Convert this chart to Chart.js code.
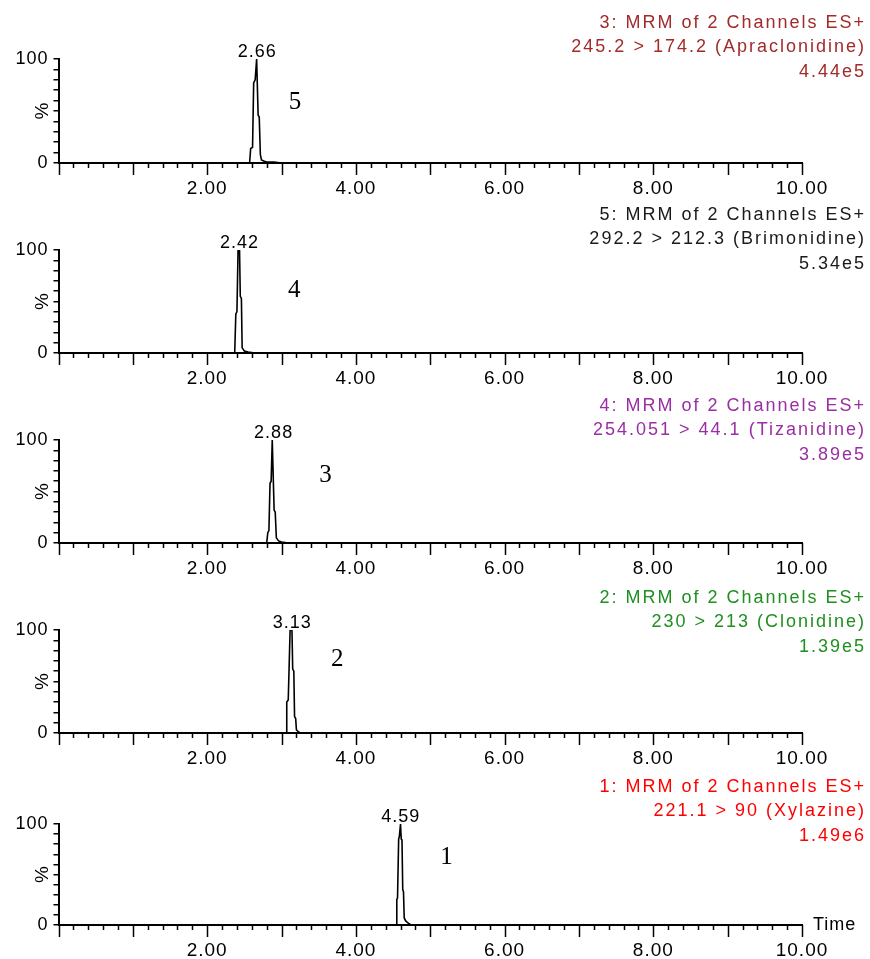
<!DOCTYPE html>
<html lang="en">

<head>
    <meta charset="UTF-8">
    <title>MRM chromatograms</title>
    <style>
        html, body { margin: 0; padding: 0; background: #fff; overflow: hidden; }
        .panel { position: absolute; left: 0; }
    </style>
</head>

<body>
    <div id="wrap"></div>
</body>
<script src="https://cdn.jsdelivr.net/npm/chart.js"></script>
<script>
    // channel header text, top to bottom
    const channelLines = ['3: MRM of 2 Channels ES+', '5: MRM of 2 Channels ES+', '4: MRM of 2 Channels ES+', '2: MRM of 2 Channels ES+', '1: MRM of 2 Channels ES+'];
    const transitionLines = ['245.2 > 174.2 (Apraclonidine)', '292.2 > 212.3 (Brimonidine)', '254.051 > 44.1 (Tizanidine)', '230 > 213 (Clonidine)', '221.1 > 90 (Xylazine)'];
    const intensityLines = ['4.44e5', '5.34e5', '3.89e5', '1.39e5', '1.49e6'];
    const headerColors = ['#a32a2a', '#1a1a1a', '#9a2fa3', '#1f8f1f', '#ff0000'];

    const peakTimes = [2.66, 2.42, 2.88, 3.13, 4.59];
    const compoundNumbers = ['5', '4', '3', '2', '1'];
    const numberX = [3.18, 3.17, 3.59, 3.75, 5.22];
    const numberY = [58, 61, 66, 71, 67];

    const xLabelValues = [2, 4, 6, 8, 10];
    const yLabelValues = [0, 100];

    // retention time (min) / relative intensity (%)
    const time1 = [0, 2.57, 2.585, 2.61, 2.625, 2.645, 2.665, 2.685, 2.70, 2.715, 2.73, 2.76, 2.80, 2.90, 2.95, 3.00, 10];
    const pct1 = [0, 0, 14, 15, 77, 80, 100, 46, 44, 8, 3, 2, 1, 1, 0.5, 0, 0];
    const time2 = [0, 2.37, 2.385, 2.40, 2.415, 2.435, 2.445, 2.46, 2.47, 2.50, 2.55, 2.60, 2.62, 10];
    const pct2 = [0, 0, 38, 40, 100, 100, 55, 53, 5, 2, 1, 0.5, 0, 0];
    const time3 = [0, 2.80, 2.815, 2.83, 2.845, 2.86, 2.875, 2.885, 2.90, 2.915, 2.93, 2.96, 3.00, 3.05, 3.08, 10];
    const pct3 = [0, 0, 10, 12, 58, 60, 100, 100, 32, 30, 5, 2, 1, 0.5, 0, 0];
    const time4 = [0, 3.06, 3.07, 3.09, 3.115, 3.14, 3.15, 3.165, 3.175, 3.19, 3.20, 3.23, 3.25, 10];
    const pct4 = [0, 0, 30, 32, 100, 100, 62, 60, 16, 14, 3, 1, 0, 0];
    const time5 = [0, 4.54, 4.55, 4.56, 4.575, 4.585, 4.60, 4.61, 4.62, 4.63, 4.64, 4.65, 4.67, 4.70, 4.74, 10];
    const pct5 = [0, 0, 25, 27, 85, 88, 100, 85, 84, 35, 33, 7, 4, 2, 0, 0];

    const allTimes = [time1, time2, time3, time4, time5];
    const allPct = [pct1, pct2, pct3, pct4, pct5];

    // page layout: y of the 100% line, y of the 0 line, y of first header line
    const topY = [59, 250, 440, 630, 824];
    const bottomY = [163, 353, 543, 733, 925];
    const headerY = [23, 215, 406, 598, 787];
    const PAD_TOP = 59;
    const X_AXIS_H = 40;
    const PAD_BOTTOM = 4;

    const SANS = "'Liberation Sans', Arial, sans-serif";

    function makePanel(i) {
        let h = (bottomY[i] - topY[i]) + PAD_TOP + X_AXIS_H + PAD_BOTTOM;
        let canvas = document.createElement('canvas');
        canvas.className = 'panel';
        canvas.width = 870;
        canvas.height = h;
        canvas.style.top = (topY[i] - PAD_TOP) + 'px';
        canvas.style.width = '870px';
        canvas.style.height = h + 'px';
        document.getElementById('wrap').appendChild(canvas);

        let points = allTimes[i].map((t, k) => ({ x: t, y: allPct[i][k] }));

        let decor = {
            id: 'decor' + i,
            beforeDraw(chart) {
                chart.ctx.letterSpacing = '1px';
            },
            afterDraw(chart) {
                let ctx = chart.ctx;
                let xs = chart.scales.x;
                let ys = chart.scales.y;
                let off = topY[i] - PAD_TOP;
                ctx.save();
                ctx.letterSpacing = '2px';

                // x ticks: long at whole minutes, short every 0.2
                ctx.strokeStyle = '#000';
                ctx.lineWidth = 1.5;
                xs.ticks.forEach(t => {
                    let v = t.value;
                    let major = Math.abs(v - Math.round(v)) < 1e-6;
                    let px = Math.round(xs.getPixelForValue(v)) + 0.5;
                    ctx.beginPath();
                    ctx.moveTo(px, xs.top);
                    ctx.lineTo(px, xs.top + (major ? 12 : 5));
                    ctx.stroke();
                });

                // header
                ctx.fillStyle = headerColors[i];
                ctx.font = '18px ' + SANS;
                ctx.textAlign = 'right';
                ctx.textBaseline = 'middle';
                let lines = [channelLines[i], transitionLines[i], intensityLines[i]];
                lines.forEach((s, k) => {
                    ctx.fillText(s, 866, headerY[i] - off + k * 24.5);
                });

                // peak apex label
                ctx.fillStyle = '#000';
                ctx.font = '18px ' + SANS;
                ctx.letterSpacing = '1px';
                ctx.textAlign = 'center';
                ctx.textBaseline = 'alphabetic';
                ctx.fillText(peakTimes[i].toFixed(2), xs.getPixelForValue(peakTimes[i]) + 1, ys.getPixelForValue(100) - 2);

                // compound number
                ctx.letterSpacing = '0px';
                ctx.font = '25px "Liberation Serif", "Times New Roman", serif';
                ctx.textBaseline = 'middle';
                ctx.fillText(compoundNumbers[i], xs.getPixelForValue(numberX[i]), ys.getPixelForValue(numberY[i]));

                // % axis name
                ctx.font = '19px ' + SANS;
                ctx.translate(ys.right - 16, (ys.top + ys.bottom) / 2);
                ctx.rotate(-Math.PI / 2);
                ctx.fillText('%', 0, 0);
                ctx.restore();

                if (i === 4) {
                    ctx.save();
                    ctx.fillStyle = '#000';
                    ctx.font = '18px ' + SANS;
                    ctx.letterSpacing = '1px';
                    ctx.textAlign = 'left';
                    ctx.textBaseline = 'middle';
                    ctx.fillText('Time', xs.right + 11, xs.top);
                    ctx.restore();
                }
            }
        };

        new Chart(canvas, {
            type: 'line',
            data: {
                datasets: [{
                    data: points,
                    borderColor: '#000',
                    borderWidth: 1.6,
                    pointRadius: 0,
                    tension: 0,
                    fill: false
                }]
            },
            options: {
                responsive: false,
                animation: false,
                events: [],
                layout: {
                    padding: { top: PAD_TOP, right: 68, bottom: PAD_BOTTOM, left: 0 }
                },
                plugins: {
                    legend: { display: false },
                    tooltip: { enabled: false }
                },
                scales: {
                    x: {
                        type: 'linear',
                        min: 0,
                        max: 10,
                        afterFit: (scale) => { scale.height = X_AXIS_H; },
                        grid: { display: false, drawTicks: false, tickLength: 0 },
                        border: { display: true, color: '#000', width: 2 },
                        ticks: {
                            stepSize: 0.2,
                            autoSkip: false,
                            maxRotation: 0,
                            minRotation: 0,
                            padding: 14,
                            color: '#000',
                            font: { size: 19, family: SANS },
                            callback: (v) => {
                                let r = Math.round(v * 10) / 10;
                                return xLabelValues.includes(r) ? r.toFixed(2) : '';
                            }
                        }
                    },
                    y: {
                        min: 0,
                        max: 100,
                        afterFit: (scale) => { scale.width = 58.5; },
                        grid: { display: true, drawOnChartArea: false, drawTicks: true, tickLength: 5, color: '#000', lineWidth: 1.5 },
                        border: { display: true, color: '#000', width: 2 },
                        ticks: {
                            stepSize: 10,
                            autoSkip: false,
                            padding: 5,
                            color: '#000',
                            font: { size: 18, family: SANS },
                            callback: (v) => yLabelValues.includes(v) ? String(v) : ''
                        }
                    }
                }
            },
            plugins: [decor]
        });
    }

    for (let i = 0; i < 5; i++) {
        makePanel(i);
    }
</script>

</html>
